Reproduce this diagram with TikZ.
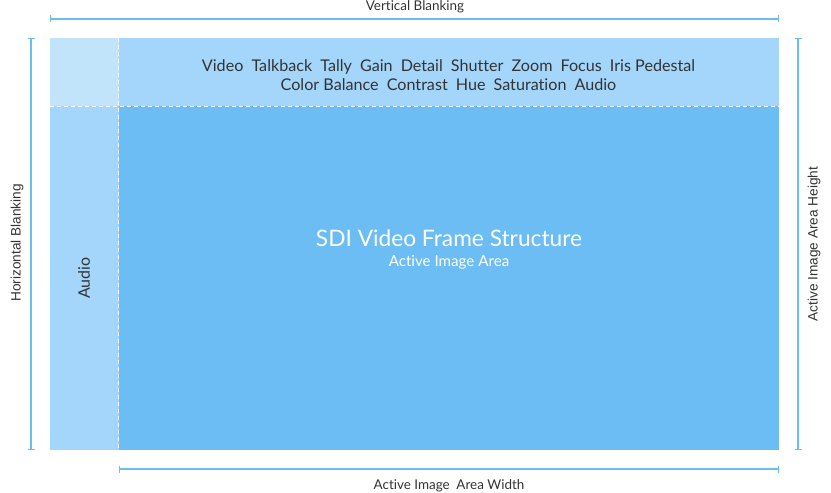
\documentclass[tikz,border=0pt]{standalone}
\usepackage{fontspec}
\setmainfont{Lato}[Ligatures=NoCommon]
\newfontfamily\arialf{Liberation Sans}
\usetikzlibrary{arrows.meta}
\definecolor{corner}{HTML}{C2E4FB}
\definecolor{band}{HTML}{A3D6FA}
\definecolor{main}{HTML}{6CBDF3}
\definecolor{dimc}{HTML}{6CBDF3}
\definecolor{txt}{HTML}{333333}
\begin{document}
\begin{tikzpicture}[x=1bp,y=-1bp,
  region/.style={draw=none,inner sep=0pt,outer sep=0pt,anchor=north west},
  dimline/.style={draw=dimc,line width=1.3bp,{Bar[width=7bp,line width=1.3bp]}-{Bar[width=7bp,line width=1.3bp]}},
  divider/.style={draw=white,line width=0.9bp,dash pattern=on 4bp off 3bp},
  lbl/.style={text=txt,inner sep=0pt,font=\fontsize{13.5}{16}\selectfont},
  albl/.style={text=txt,inner sep=0pt,font=\arialf\fontsize{13.7}{16}\selectfont,rotate=90},
  params/.style={text=txt,inner sep=0pt,align=center,font=\fontsize{16.2}{19}\selectfont}]
\useasboundingbox (0,0) rectangle (831,493);
% regions
\node[region,fill=corner,minimum width=68.5bp,minimum height=68bp] (corner) at (50,38) {};
\node[region,fill=band,minimum width=660.5bp,minimum height=68bp] (top) at (118.5,38) {};
\node[region,fill=band,minimum width=68.5bp,minimum height=344bp] (left) at (50,106) {};
\node[region,fill=main,minimum width=660.5bp,minimum height=344bp] (main) at (118.5,106) {};
% dashed dividers
\draw[divider] (corner.north east) -- (left.south east);
\draw[divider] (corner.south west) -- (top.south east);
% texts
\node[params] (plist) at (448.5,75.5) {Video\enspace Talkback\enspace Tally\enspace Gain\enspace Detail\enspace Shutter\enspace Zoom\enspace Focus\enspace Iris Pedestal\\Color Balance\enspace Contrast\enspace Hue\enspace Saturation\enspace Audio};
\node[text=white,inner sep=0pt,font=\fontsize{22.8}{26}\selectfont] (title) at (449,238) {SDI Video Frame Structure};
\node[text=white,inner sep=0pt,font=\fontsize{15.2}{18}\selectfont] (sub) at (449,262) {Active Image Area};
\node[lbl,rotate=90,font=\fontsize{16}{18}\selectfont] (audio) at (84,278) {Audio};
% dimension lines
\coordinate (vbA) at (50,19);
\coordinate (vbB) at (779,19);
\draw[dimline] (vbA) -- (vbB);
\node[lbl] (vbl) at (415,6.5) {Vertical Blanking};
\coordinate (hbA) at (31,38);
\coordinate (hbB) at (31,450);
\draw[dimline] (hbA) -- (hbB);
\node[albl] (hbl) at (17,243) {Horizontal Blanking};
\coordinate (ahA) at (798,38);
\coordinate (ahB) at (798,450);
\draw[dimline] (ahA) -- (ahB);
\node[albl] (ahl) at (814,244) {Active Image Area Height};
\coordinate (awA) at (118.5,469);
\coordinate (awB) at (779,469);
\draw[dimline] (awA) -- (awB);
\node[lbl] (awl) at (449,485.5) {Active Image\enspace Area Width};
\end{tikzpicture}
\end{document}
